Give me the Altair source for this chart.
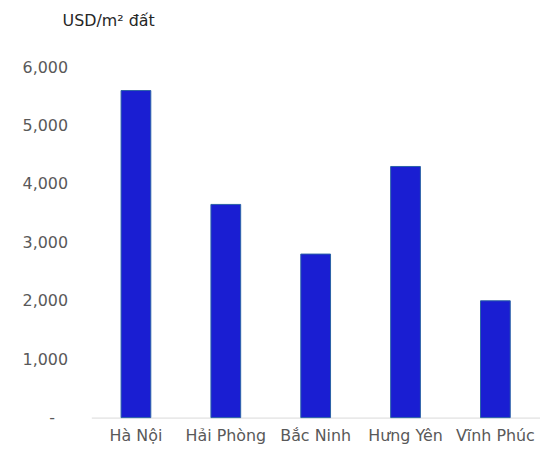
import altair as alt
import pandas as pd

provinces = ["Hà Nội", "Hải Phòng", "Bắc Ninh", "Hưng Yên", "Vĩnh Phúc"]
prices = [5600, 3650, 2800, 4300, 2000]
y_ticks = [0, 1000, 2000, 3000, 4000, 5000, 6000]
unit_title = "USD/m² đất"

df = pd.DataFrame({"province": provinces, "price": prices})

FONT = "DejaVu Sans"

chart = (
    alt.Chart(df)
    .mark_bar(color="#1a1ed2", stroke="#2a62a6", strokeWidth=1)
    .encode(
        x=alt.X(
            "province:N",
            sort=provinces,
            scale=alt.Scale(paddingInner=0.669, paddingOuter=0.331),
            axis=alt.Axis(
                title=None,
                labelAngle=0,
                ticks=False,
                domainColor="#d9d9d9",
                domainWidth=1,
                labelPadding=10,
                labelFontSize=16,
                labelColor="#595959",
                labelFont=FONT,
            ),
        ),
        y=alt.Y(
            "price:Q",
            scale=alt.Scale(domain=[0, 6000]),
            axis=alt.Axis(
                title=None,
                values=y_ticks,
                grid=False,
                domain=False,
                ticks=False,
                labelPadding=alt.condition("datum.value == 0", alt.value(37), alt.value(24)),
                labelFontSize=16,
                labelColor="#595959",
                labelFont=FONT,
                labelExpr="datum.value == 0 ? '-' : format(datum.value, ',')",
            ),
        ),
    )
    .properties(
        width=452,
        height=353,
        padding={"left": 92, "top": 66, "right": 0, "bottom": 37},
        autosize=alt.AutoSizeParams(type="none"),
        title=alt.TitleParams(
            unit_title,
            anchor="start",
            frame="group",
            dx=-29,
            offset=31,
            fontSize=16,
            font=FONT,
            fontWeight="normal",
            color="#262626",
        ),
    )
    .configure_view(stroke=None)
)

chart.save("out.html", embed_options={"renderer": "svg", "actions": False})
